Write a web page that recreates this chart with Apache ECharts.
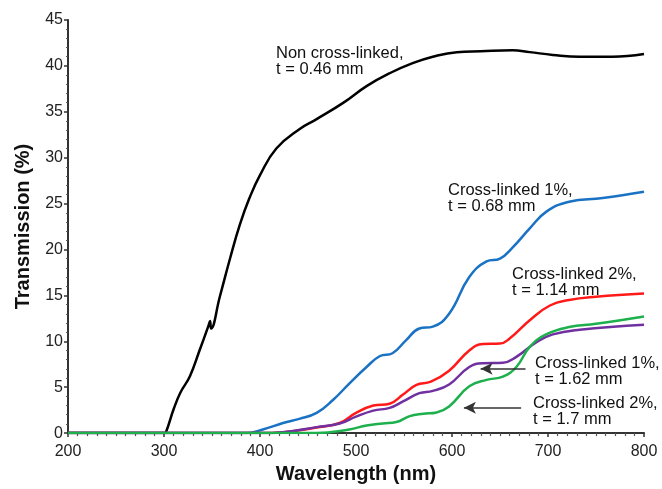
<!DOCTYPE html>
<html><head><meta charset="utf-8">
<script src="https://cdn.jsdelivr.net/npm/echarts@6/dist/echarts.min.js"></script>
<style>html,body{margin:0;padding:0;background:#fff}#c{width:662px;height:489px}</style>
</head><body><div id="c"></div>
<script>
// ---- data ----
const blackWl  = [200,300,302,310,317,327,337,346,348,349,358,369,379,389,400,417,441,459,487,511,535,559,580,605,630,663,681,705,733,767,800];
const blackVal = [0,0,0.1,2.6,4.4,6.2,9.0,11.6,12.2,11.4,14.8,19.1,22.7,25.6,28.1,31.0,33.1,34.2,36.0,37.8,39.2,40.3,41.0,41.5,41.6,41.7,41.5,41.2,41.0,41.0,41.3];

const blueWl  = [200,385,403,424,441,459,476,493,511,525,538,552,566,580,597,618,636,650,663,681,698,722,757,800];
const blueVal = [0,0,0.4,1.1,1.55,2.2,3.6,5.4,7.2,8.4,8.7,10.1,11.4,11.6,13.0,17.0,18.7,19.0,20.2,22.3,24.1,25.2,25.6,26.3];

const redWl  = [200,400,424,459,483,500,518,535,549,563,578,597,618,632,650,660,681,702,722,750,800];
const redVal = [0,0,0.1,0.6,1.1,2.2,3.0,3.2,4.2,5.25,5.6,6.8,9.0,9.7,9.75,10.3,12.3,13.9,14.5,14.85,15.2];

const purpleWl  = [200,400,424,459,483,500,518,535,549,566,580,597,618,632,653,667,688,705,733,800];
const purpleVal = [0,0,0.1,0.65,1.05,1.8,2.45,2.75,3.45,4.35,4.6,5.3,7.2,7.6,7.65,8.3,9.9,10.75,11.25,11.8];

const greenWl  = [200,459,493,511,528,542,556,570,584,597,618,636,653,667,681,698,722,750,800];
const greenVal = [0,0,0.4,0.83,1.05,1.2,1.85,2.1,2.25,2.9,5.1,5.8,6.15,7.2,9.4,10.75,11.55,11.9,12.7];

const xTicks = [200,300,400,500,600,700,800];
const yTicks = [0,5,10,15,20,25,30,35,40,45];

const labels = [
  "Non cross-linked,\nt = 0.46 mm",
  "Cross-linked 1%,\nt = 0.68 mm",
  "Cross-linked 2%,\nt = 1.14 mm",
  "Cross-linked 1%,\nt = 1.62 mm",
  "Cross-linked 2%,\nt = 1.7 mm"
];
// arrow endpoints in data space [wavelength, transmission]
const arrow1 = [[676.6,7.0],[629.8,7.0]];
const arrow2 = [[672,2.75],[612.4,2.75]];

// ---- chart ----
const pair = (xs, ys) => xs.map((x,i)=>[x, ys[i]]);
const FONT = '"Liberation Sans", Arial, sans-serif';
const chart = echarts.init(document.getElementById('c'), null, {renderer:'canvas'});

function line(name, color, xs, ys) {
  return {
    name, type:'line', data: pair(xs, ys), showSymbol:false, symbol:'none',
    smooth:0.45,
    lineStyle:{color, width:2.5}, itemStyle:{color}, z:2, animation:false
  };
}

const labelBox = (text, left, top) => ({
  type:'text', left, top, z:10,
  style:{text, font:'16.5px '+FONT, fill:'#111', lineHeight:16}
});

const arrowSeries = {
  type:'line', data:[], silent:true, animation:false,
  markLine:{
    silent:true, symbol:['none','arrow'], symbolSize:[9,12],
    label:{show:false},
    lineStyle:{color:'#333', width:1.6, type:'solid'},
    data:[
      [{coord:arrow1[0]},{coord:arrow1[1]}],
      [{coord:arrow2[0]},{coord:arrow2[1]}]
    ]
  }
};

chart.setOption({
  animation:false,
  backgroundColor:'#fff',
  grid:{left:68, right:18, top:20, bottom:52, containLabel:false},
  xAxis:{
    type:'value', min:200, max:800, interval:100,
    name:'Wavelength (nm)', nameLocation:'middle', nameGap:29,
    nameTextStyle:{fontFamily:FONT, fontSize:20, fontWeight:'bold', color:'#111'},
    axisLine:{show:true, onZero:false, lineStyle:{color:'#333', width:2}},
    axisTick:{show:true, length:4, lineStyle:{color:'#333', width:1.5}},
    minorTick:{show:true, splitNumber:10, length:3, lineStyle:{color:'#555', width:1.2}},
    axisLabel:{fontFamily:FONT, fontSize:16, color:'#222', margin:10,
      formatter:v=> xTicks.includes(v) ? String(v) : ''},
    splitLine:{show:false}
  },
  yAxis:{
    type:'value', min:0, max:45, interval:5,
    name:'Transmission (%)', nameLocation:'middle', nameGap:35,
    nameTextStyle:{fontFamily:FONT, fontSize:20, fontWeight:'bold', color:'#111'},
    axisLine:{show:true, lineStyle:{color:'#333', width:2}},
    axisTick:{show:true, length:4, lineStyle:{color:'#333', width:1.5}},
    minorTick:{show:true, splitNumber:5, length:2, lineStyle:{color:'#555', width:1.2}},
    axisLabel:{fontFamily:FONT, fontSize:16, color:'#222', margin:5,
      formatter:v=> yTicks.includes(v) ? String(v) : ''},
    splitLine:{show:false}
  },
  series:[
    line('Non cross-linked', '#000000', blackWl, blackVal),
    line('Cross-linked 1%, 0.68', '#1a72c4', blueWl, blueVal),
    line('Cross-linked 2%, 1.14', '#ff1a1a', redWl, redVal),
    line('Cross-linked 1%, 1.62', '#7030a0', purpleWl, purpleVal),
    line('Cross-linked 2%, 1.7', '#1db04c', greenWl, greenVal),
    arrowSeries
  ],
  graphic:[
    labelBox(labels[0], 276, 45),
    labelBox(labels[1], 448, 182),
    labelBox(labels[2], 512, 266),
    labelBox(labels[3], 535, 355),
    labelBox(labels[4], 533, 395)
  ]
});
</script></body></html>
